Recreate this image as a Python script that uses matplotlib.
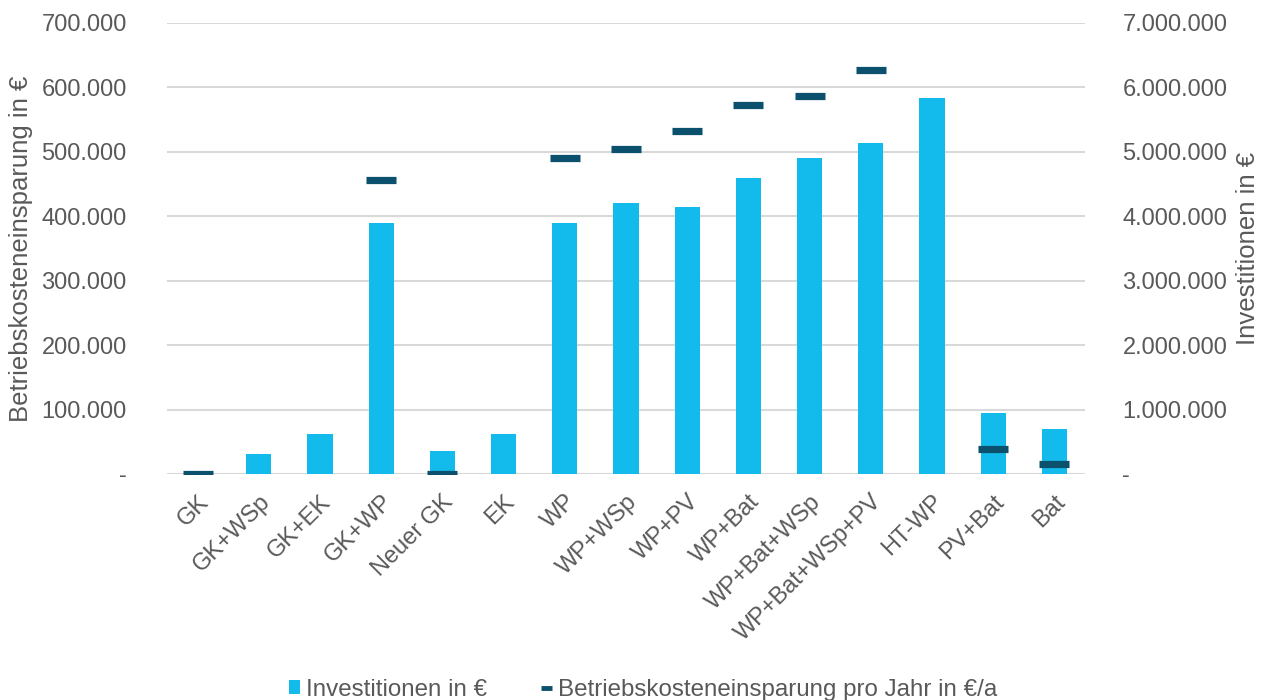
## Investitionen (Balken, rechte Achse) und Betriebskosteneinsparung (Striche, linke Achse)

import numpy as np
import matplotlib
matplotlib.use("Agg")
import matplotlib.pyplot as plt
from matplotlib.patches import Patch
from matplotlib.lines import Line2D
from matplotlib.ticker import FuncFormatter, MultipleLocator

plt.rcParams['font.family'] = ['Liberation Sans', 'DejaVu Sans']

varianten = ["GK", "GK+WSp", "GK+EK", "GK+WP", "Neuer GK", "EK", "WP", "WP+WSp",
             "WP+PV", "WP+Bat", "WP+Bat+WSp", "WP+Bat+WSp+PV", "HT-WP", "PV+Bat", "Bat"]
investitionen = [0, 306000, 624000, 3900000, 354000, 624000, 3900000, 4210000,
                 4146000, 4597000, 4897000, 5140000, 5840000, 939000, 691000]
## nan = kein Wert
einsparung = [0, np.nan, np.nan, 455500, 0, np.nan, 490000, 505000,
              532000, 572600, 586000, 627000, np.nan, 38500, 15200]

bar_col = "#13bbed"
mark_col = "#0b506d"
txt_col = "#595959"
grid_col = "#d9d9d9"
fs = 17
fs_lab = 18.5


def de_fmt(v, pos):
    if abs(v) < 1e-6:
        return "-"
    return f"{v:,.0f}".replace(",", ".")


fig = plt.figure(figsize=(12.61, 7.0), dpi=100)
ax = fig.add_axes([0.1324, 0.3229, 0.728, 0.6443])
ax2 = ax.twinx()
ax.set_zorder(2)
ax2.set_zorder(1)
ax.patch.set_visible(False)

x = np.arange(len(varianten))
ax2.bar(x, investitionen, width=0.41, color=bar_col, zorder=3)
ax.plot(x, einsparung, linestyle="none", marker="_", markersize=21,
        markeredgewidth=5.2, color=mark_col, zorder=4)

ax.set_xlim(-0.5, len(varianten) - 0.5)
ax.set_ylim(0, 700000)
ax2.set_ylim(0, 7000000)
ax.yaxis.set_major_locator(MultipleLocator(100000))
ax2.yaxis.set_major_locator(MultipleLocator(1000000))
ax.yaxis.set_major_formatter(FuncFormatter(de_fmt))
ax2.yaxis.set_major_formatter(FuncFormatter(de_fmt))

ax2.grid(axis="y", color=grid_col, linewidth=1.5)
ax2.set_axisbelow(True)

for a in (ax, ax2):
    for s in a.spines.values():
        s.set_visible(False)
    a.tick_params(axis="both", length=0, labelsize=fs, labelcolor=txt_col)

ax.tick_params(axis="y", pad=29)
ax2.tick_params(axis="y", pad=27)
ax.set_xticks(x)
ax.set_xticklabels(varianten, rotation=45, ha="right", rotation_mode="anchor")
ax.tick_params(axis="x", pad=12)

ax.set_ylabel("Betriebskosteneinsparung in €", fontsize=fs_lab, color=txt_col)
ax2.set_ylabel("Investitionen in €", fontsize=fs_lab, color=txt_col)
ax.yaxis.set_label_coords(-0.146, 0.5)
ax2.yaxis.set_label_coords(1.164, 0.5)

handles = [Patch(facecolor=bar_col, edgecolor="none"),
           Line2D([], [], color=mark_col, linewidth=3.5, solid_capstyle="butt")]
leg = fig.legend(handles, ["Investitionen in €", "Betriebskosteneinsparung pro Jahr in €/a"],
                 loc="lower center", bbox_to_anchor=(0.51, -0.032), ncol=2, frameon=False,
                 fontsize=17.4, handlelength=0.46, handleheight=0.46, handletextpad=0.25,
                 columnspacing=2.2)
for t in leg.get_texts():
    t.set_color(txt_col)

fig.savefig("out.png", dpi=100, facecolor="white")
